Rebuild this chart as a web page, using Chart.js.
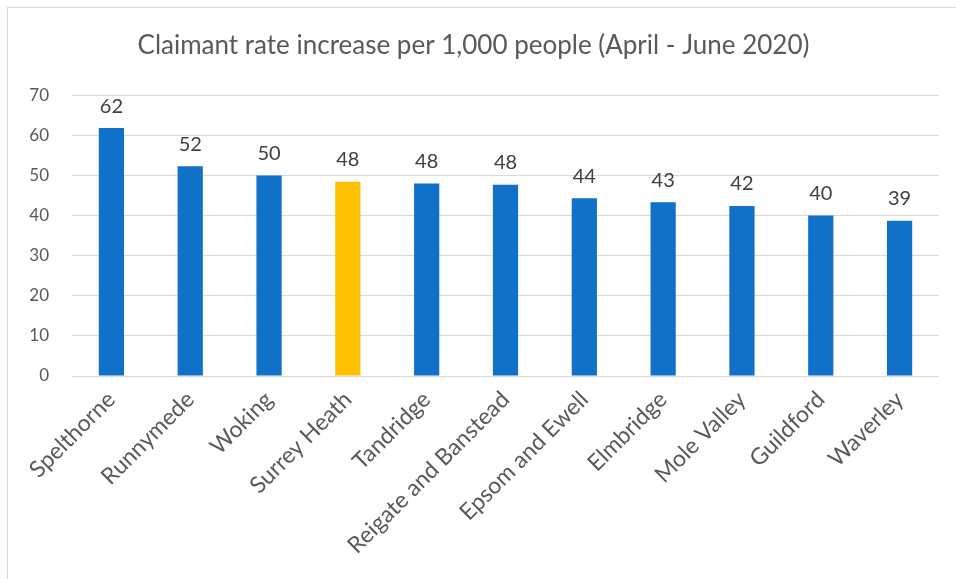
<!DOCTYPE html>
<html>
<head>
<meta charset="utf-8">
<script src="https://cdn.jsdelivr.net/npm/chart.js@4"></script>
<style>
  html, body { margin: 0; padding: 0; background: #fff; width: 956px; height: 579px; overflow: hidden; }
  #frame { position: absolute; left: 7px; top: 7px; width: 949px; height: 572px;
           border-left: 1px solid #d9d9d9; border-top: 1px solid #d9d9d9; }
  #wrap { position: absolute; left: 0; top: 0; width: 948px; height: 571px; }
</style>
</head>
<body>
<div id="frame"><div id="wrap"><canvas id="c"></canvas></div></div>
<script>
const titleText = 'Claimant rate increase per 1,000 people (April - June 2020)';
const categories = ['Spelthorne', 'Runnymede', 'Woking', 'Surrey Heath', 'Tandridge',
  'Reigate and Banstead', 'Epsom and Ewell', 'Elmbridge', 'Mole Valley', 'Guildford', 'Waverley'];
const values = [61.8, 52.3, 50.0, 48.4, 48.0, 47.7, 44.3, 43.3, 42.4, 40.0, 38.7];
const valueLabels = ['62', '52', '50', '48', '48', '48', '44', '43', '42', '40', '39'];
const highlightIndex = 3;
const yTicks = [0, 10, 20, 30, 40, 50, 60, 70];

const FONT = 'Lato, "Open Sans", sans-serif';
const blue = '#1170C8';
const yellow = '#FFC000';

const labelPlugin = {
  id: 'valueLabels',
  afterDatasetsDraw(chart) {
    const ctx = chart.ctx;
    const meta = chart.getDatasetMeta(0);
    ctx.save();
    ctx.font = '20px ' + FONT;
    ctx.fillStyle = '#404040';
    ctx.textAlign = 'center';
    ctx.textBaseline = 'middle';
    meta.data.forEach((bar, i) => {
      ctx.fillText(valueLabels[i], bar.x, bar.y - 22);
    });
    ctx.restore();
  }
};

new Chart(document.getElementById('c'), {
  type: 'bar',
  data: {
    labels: categories,
    datasets: [{
      data: values,
      backgroundColor: values.map((v, i) => i === highlightIndex ? yellow : blue),
      borderWidth: 0,
      barPercentage: 0.32,
      categoryPercentage: 1.0
    }]
  },
  options: {
    responsive: true,
    maintainAspectRatio: false,
    animation: false,
    layout: { padding: { left: 0, right: 17, top: 0, bottom: 0 } },
    plugins: {
      legend: { display: false },
      tooltip: { enabled: false },
      title: {
        display: true,
        text: titleText,
        color: '#595959',
        font: { family: FONT, size: 26, weight: 'normal' },
        padding: { top: 22, bottom: 34 }
      }
    },
    scales: {
      x: {
        grid: { display: false, drawTicks: false },
        border: { display: false },
        ticks: {
          color: '#595959',
          font: { family: FONT, size: 23 },
          minRotation: 45,
          maxRotation: 45,
          autoSkip: false,
          padding: 10
        },
        afterFit(s) { s.height = 203; }
      },
      y: {
        min: 0,
        max: 70,
        afterBuildTicks(s) { s.ticks = yTicks.map(v => ({ value: v })); },
        grid: { color: '#d9d9d9', lineWidth: 1, drawTicks: false },
        border: { display: false },
        ticks: {
          color: '#595959',
          font: { family: FONT, size: 17 },
          padding: 23
        },
        afterFit(s) { s.width = 64; }
      }
    }
  },
  plugins: [labelPlugin]
});
</script>
</body>
</html>
